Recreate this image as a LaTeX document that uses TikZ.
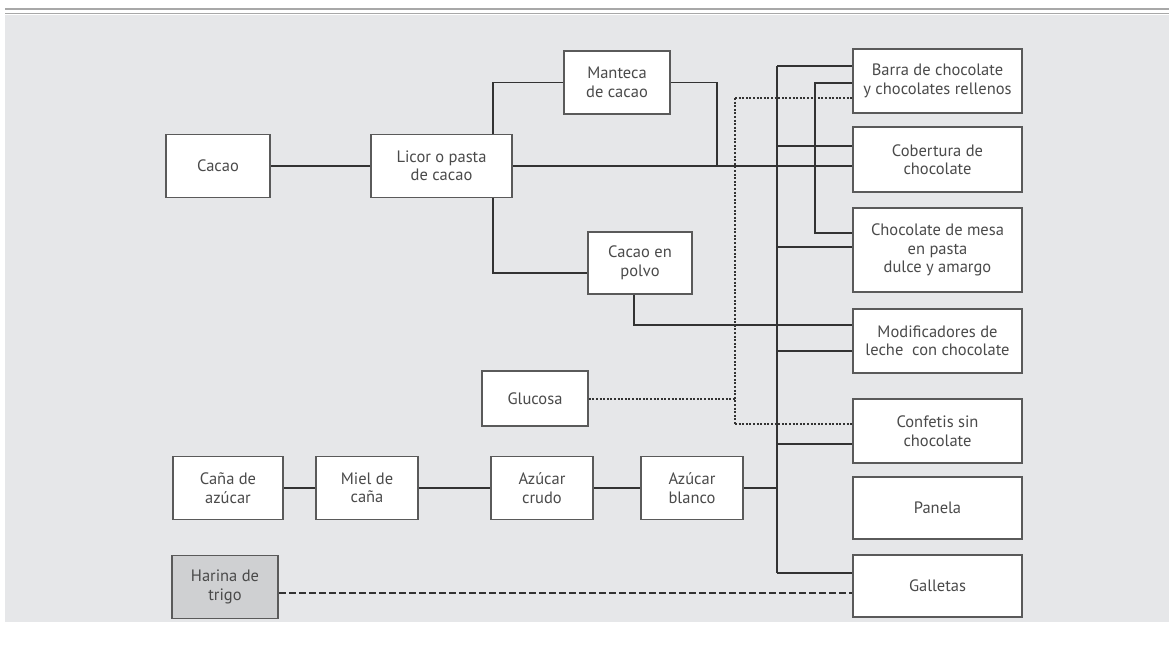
\documentclass[tikz,border=0pt]{standalone}
\usepackage{fontspec}
\setmainfont{PT Sans}
\begin{document}
\begin{tikzpicture}[x=1pt,y=-1pt,
  box/.style={draw=boxline, line width=1.6pt, fill=white, text=txt, align=center,
    inner sep=0pt, font=\fontsize{16.5}{18.5}\selectfont},
  conn/.style={draw=lin, line width=1.7pt},
  bus/.style={draw=lin, line width=2.6pt},
  dotline/.style={draw=lin, line width=2pt, dash pattern=on 2pt off 1.6pt},
  dashline/.style={draw=lin, line width=1.5pt, dash pattern=on 7pt off 3pt}]
\definecolor{bg}{HTML}{E6E7E9}
\definecolor{boxline}{HTML}{5A5A5A}
\definecolor{lin}{HTML}{333333}
\definecolor{txt}{HTML}{4A4A4A}
\definecolor{harinafill}{HTML}{CFD0D2}
\definecolor{topline}{HTML}{A8A8A8}
\useasboundingbox (0,0) rectangle (1169,650);
\fill[white] (0,0) rectangle (1169,650);
\fill[bg] (5,15) rectangle (1169,622);
\draw[topline, line width=1.5pt] (5,9) -- (1169,9);
\draw[topline, line width=1.5pt] (5,13.5) -- (1169,13.5);

% nodes
\node[box, minimum width=104, minimum height=63] (cacao) at (218,166) {Cacao};
\node[box, minimum width=141, minimum height=63] (licor) at (441.5,166) {Licor o pasta\\de cacao};
\node[box, minimum width=106, minimum height=63] (manteca) at (617,82.5) {Manteca\\de cacao};
\node[box, minimum width=104, minimum height=62] (polvo) at (640,263) {Cacao en\\polvo};
\node[box, minimum width=106, minimum height=55] (glucosa) at (535,398.5) {Glucosa};
\node[box, minimum width=110, minimum height=63] (cana) at (228,488) {Caña de\\azúcar};
\node[box, minimum width=102, minimum height=63] (miel) at (367,488) {Miel de\\caña};
\node[box, minimum width=102, minimum height=63] (crudo) at (542,488) {Azúcar\\crudo};
\node[box, minimum width=102, minimum height=63] (blanco) at (692,488) {Azúcar\\blanco};
\node[box, fill=harinafill, minimum width=106, minimum height=63] (harina) at (225,587) {Harina de\\trigo};

\node[box, minimum width=169, minimum height=64] (barra) at (937.5,81) {Barra de chocolate\\y chocolates rellenos};
\node[box, minimum width=169, minimum height=65] (cobertura) at (937.5,159.5) {Cobertura de\\chocolate};
\node[box, minimum width=169, minimum height=84] (mesa) at (937.5,250) {Chocolate de mesa\\en pasta\\dulce y amargo};
\node[box, minimum width=169, minimum height=64] (modif) at (937.5,341) {Modificadores de\\leche\ \ con chocolate};
\node[box, minimum width=169, minimum height=64] (confetis) at (937.5,431) {Confetis sin\\chocolate};
\node[box, minimum width=169, minimum height=62] (panela) at (937.5,508) {Panela};
\node[box, minimum width=169, minimum height=62] (galletas) at (937.5,586) {Galletas};

% junction coordinates
\coordinate (jm) at (717,166);
\coordinate (j2) at (815,166);
\coordinate (btop) at (777,66);
\coordinate (bbot) at (777,573);
\coordinate (g1) at (735,98);
\coordinate (g2) at (735,424);

% cacao chain
\draw[conn] (cacao.east) -- (licor.west);
\draw[conn] (licor.east) -- (licor.east -| cobertura.west);
\draw[conn] ([xshift=51.5pt]licor.north) |- (manteca.west);
\draw[conn] (manteca.east) -| (jm);
\draw[conn] ([xshift=51.5pt]licor.south) |- ([yshift=-10pt]polvo.west);
\draw[conn] ([xshift=-6pt]polvo.south) |- ([yshift=16pt]modif.west);
\draw[conn] ([yshift=-2pt]barra.west) -| (j2) |- ([yshift=17pt]mesa.west);

% sugar chain
\draw[conn] (cana.east) -- (miel.west);
\draw[conn] (miel.east) -- (crudo.west);
\draw[conn] (crudo.east) -- (blanco.west);
\draw[conn] (blanco.east) -- (blanco.east -| btop);

% bus
\draw[bus] (btop) -- (bbot);
\draw[conn] (btop) -- (btop -| barra.west);
\draw[conn] ([yshift=13.5pt]cobertura.west -| btop) -- ([yshift=13.5pt]cobertura.west);
\draw[conn] ([yshift=3pt]mesa.west -| btop) -- ([yshift=3pt]mesa.west);
\draw[conn] ([yshift=-10pt]modif.west -| btop) -- ([yshift=-10pt]modif.west);
\draw[conn] ([yshift=-13pt]confetis.west -| btop) -- ([yshift=-13pt]confetis.west);
\draw[conn] (bbot) -- (bbot -| galletas.west);

% glucose dotted
\draw[dotline] (glucosa.east) -- (glucosa.east -| g1);
\draw[dotline] (g1) -- (g2);
\draw[dotline] (g1) -- (g1 -| barra.west);
\draw[dotline] (g2) -- (g2 -| confetis.west);

% harina dashed
\draw[dashline] ([yshift=-6pt]harina.east) -- ([yshift=-6pt]harina.east -| galletas.west);
\end{tikzpicture}
\end{document}
